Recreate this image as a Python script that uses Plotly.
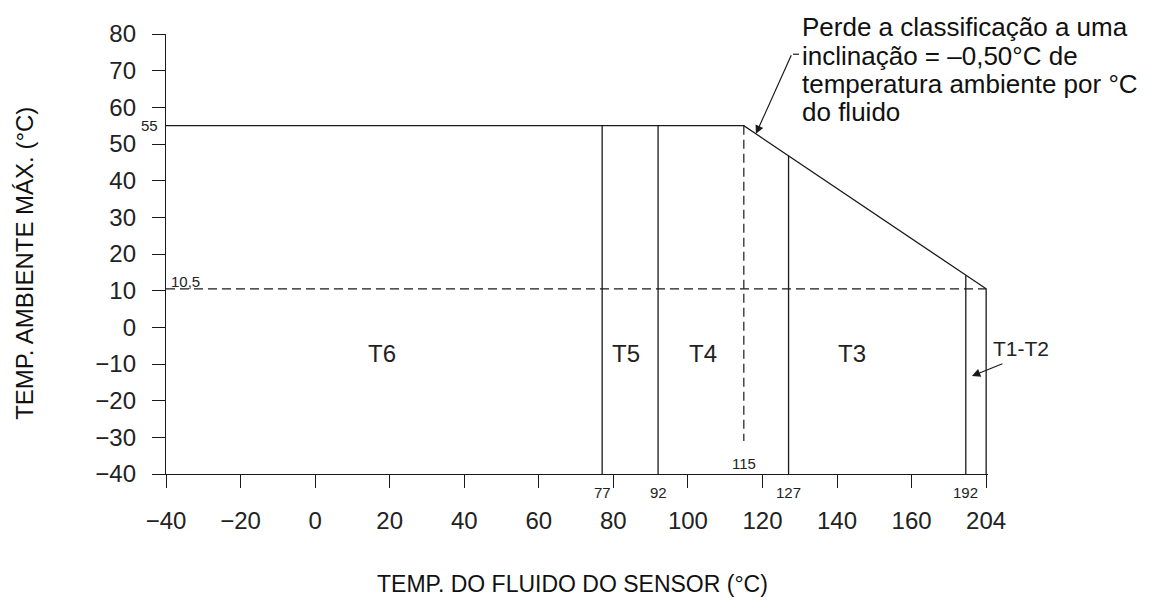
import numpy as np
import plotly.graph_objects as go

# ---------------- data ----------------
x_tick_values = [-40, -20, 0, 20, 40, 60, 80, 100, 120, 140, 160, 204]
y_tick_values = [-40, -30, -20, -10, 0, 10, 20, 30, 40, 50, 60, 70, 80]
zone_bounds = [77, 92, 127, 192]          # class boundaries (fluid °C)
zone_names = ["T6", "T5", "T4", "T3"]
zone_label_x = [18, 83.5, 104, 144]       # label positions (drawing units)
end_zone_name = "T1-T2"
fluid_min = -40
derate_start = 115
fluid_max = 204
ambient_min = -40
ambient_max = 55
ambient_at_fluid_max = 10.5
derate_dash_bottom = -31
note_lines = ["Perde a classificação a uma",
              "inclinação = \u20130,50°C de",
              "temperatura ambiente por °C",
              "do fluido"]

# the drawing compresses the scale above 160 °C (204 drawn where 180 would be)
REAL_BREAKS = [-40, 160, 204]
AXIS_BREAKS = [-40, 160, 180]


def ax_x(v):
    return float(np.interp(v, REAL_BREAKS, AXIS_BREAKS))


def fmt(v):
    return ("%g" % v).replace("-", "\u2212")


# page geometry (the html body adds an 8px margin)
PAGE_OFF = 8
FIG_W, FIG_H = 1154 - 2 * PAGE_OFF, 608 - 2 * PAGE_OFF
PLOT_L, PLOT_T, PLOT_W, PLOT_H = 166, 28, 822, 446   # page pixels


def px_x(p):   # page pixel -> paper x
    return (p - PLOT_L) / PLOT_W


def px_y(p):   # page pixel -> paper y
    return (PLOT_T + PLOT_H - p) / PLOT_H


LINE = dict(color="#1a1a1a", width=1.3)
CAD = "Liberation Sans, Arial, sans-serif"
HELV = "Liberation Sans, Arial, Helvetica, sans-serif"

slope_x = [ax_x(derate_start), ax_x(fluid_max)]
slope_y = [ambient_max, ambient_at_fluid_max]


def top_of(b):
    if b <= derate_start:
        return ambient_max
    return float(np.interp(ax_x(b), slope_x, slope_y))


fig = go.Figure()

# envelope: flat max ambient, derating slope, right boundary
fig.add_trace(go.Scatter(
    x=[ax_x(fluid_min), ax_x(derate_start), ax_x(fluid_max), ax_x(fluid_max)],
    y=[ambient_max, ambient_max, ambient_at_fluid_max, ambient_min],
    mode="lines", line=LINE, hoverinfo="skip", showlegend=False))

# zone boundaries
vx, vy = [], []
for b in zone_bounds:
    vx += [ax_x(b), ax_x(b), None]
    vy += [ambient_min, top_of(b), None]
fig.add_trace(go.Scatter(x=vx, y=vy, mode="lines", line=LINE,
                         hoverinfo="skip", showlegend=False))

# dashed reference lines
DASH = dict(color="#1a1a1a", width=1.2, dash="9px,5px")
fig.add_trace(go.Scatter(
    x=[ax_x(fluid_min), ax_x(fluid_max)],
    y=[ambient_at_fluid_max, ambient_at_fluid_max],
    mode="lines", line=DASH, hoverinfo="skip", showlegend=False))
fig.add_trace(go.Scatter(
    x=[ax_x(derate_start), ax_x(derate_start)],
    y=[ambient_max, derate_dash_bottom],
    mode="lines", line=DASH, hoverinfo="skip", showlegend=False))

SMALLF = dict(family=CAD, size=15, color="#222")
annotations = []
annotations.append(dict(x=ax_x(fluid_min), y=ambient_max, text=fmt(ambient_max),
                        xref="x", yref="y", showarrow=False, xanchor="right",
                        yanchor="middle", xshift=-6, font=SMALLF))
annotations.append(dict(x=ax_x(fluid_min), y=ambient_at_fluid_max,
                        text=str(ambient_at_fluid_max).replace(".", ","),
                        xref="x", yref="y", showarrow=False, xanchor="left",
                        yanchor="bottom", xshift=3, yshift=-3, font=SMALLF))
for b in zone_bounds:
    annotations.append(dict(x=ax_x(b), y=ambient_min, text=fmt(b), xref="x", yref="y",
                            showarrow=False, xanchor="center", yanchor="top",
                            yshift=-8, font=SMALLF))
annotations.append(dict(x=ax_x(derate_start), y=ambient_min, text=fmt(derate_start),
                        xref="x", yref="y", showarrow=False, xanchor="center",
                        yanchor="bottom", yshift=0, font=SMALLF))

# zone names
for name, lx in zip(zone_names, zone_label_x):
    annotations.append(dict(x=lx, y=-7, text=name, xref="x", yref="y", showarrow=False,
                            font=dict(family=CAD, size=24, color="#222")))
annotations.append(dict(x=px_x(1020.5), y=-5.9, text=end_zone_name,
                        xref="paper", yref="y", showarrow=False, xanchor="center",
                        font=dict(family=CAD, size=21, color="#222")))
# arrow to T1-T2 strip
head_x = ax_x(zone_bounds[-1]) + 0.3 * (ax_x(fluid_max) - ax_x(zone_bounds[-1]))
annotations.append(dict(x=head_x, y=-13.3, xref="x", yref="y", text="",
                        showarrow=True, arrowhead=2, arrowsize=1.4, arrowwidth=1.2,
                        arrowcolor="#1a1a1a", ax=32, ay=-13))

# leader to derating slope
f = 0.05
lead_x = slope_x[0] + f * (slope_x[1] - slope_x[0])
lead_y = slope_y[0] + f * (slope_y[1] - slope_y[0])
annotations.append(dict(x=lead_x, y=lead_y, xref="x", yref="y", text="",
                        showarrow=True, arrowhead=2, arrowsize=1.4, arrowwidth=1.2,
                        arrowcolor="#1a1a1a", ax=36, ay=-80))

# note text, one line per annotation
for i, line in enumerate(note_lines):
    annotations.append(dict(
        x=px_x(800), y=px_y(21 + 28.8 * i), xref="paper", yref="paper",
        xanchor="left", yanchor="middle", align="left", showarrow=False,
        text=line, font=dict(family=HELV, size=26, color="#111")))

# axis titles
annotations.append(dict(x=px_x(572), y=px_y(585), xref="paper",
                        yref="paper", showarrow=False, xanchor="center", yanchor="middle",
                        text="TEMP. DO FLUIDO DO SENSOR (°C)",
                        font=dict(family=HELV, size=23, color="#111")))
annotations.append(dict(x=px_x(25), y=px_y(261), xref="paper",
                        yref="paper", showarrow=False, xanchor="center", yanchor="middle",
                        textangle=-90, text="TEMP. AMBIENTE MÁX. (°C)",
                        font=dict(family=HELV, size=24, color="#111")))

shapes = [dict(type="line", xref="paper", yref="paper",
               x0=px_x(793), x1=px_x(799), y0=px_y(48.5), y1=px_y(48.5),
               line=dict(color="#1a1a1a", width=1.2))]

AX = dict(showgrid=False, zeroline=False, showline=True, linecolor="#1a1a1a",
          linewidth=1.3, ticks="outside", ticklen=13, tickwidth=1.3,
          tickcolor="#1a1a1a", tickmode="array",
          tickfont=dict(family=CAD, size=24, color="#222"))

fig.update_layout(
    width=FIG_W, height=FIG_H,
    margin=dict(l=PLOT_L - PAGE_OFF, r=FIG_W - (PLOT_L - PAGE_OFF) - PLOT_W,
                t=PLOT_T - PAGE_OFF, b=FIG_H - (PLOT_T - PAGE_OFF) - PLOT_H, pad=0),
    paper_bgcolor="white", plot_bgcolor="white",
    showlegend=False,
    annotations=annotations,
    shapes=shapes,
    xaxis=dict(AX, range=[-40, 180.5],
               tickvals=[ax_x(v) for v in x_tick_values],
               ticktext=[fmt(v) for v in x_tick_values],
               ticklabelstandoff=12),
    yaxis=dict(AX, range=[-40, 80], tickvals=y_tick_values,
               ticktext=[fmt(v) for v in y_tick_values],
               ticklabelstandoff=11),
)

fig.write_html("out.html")
